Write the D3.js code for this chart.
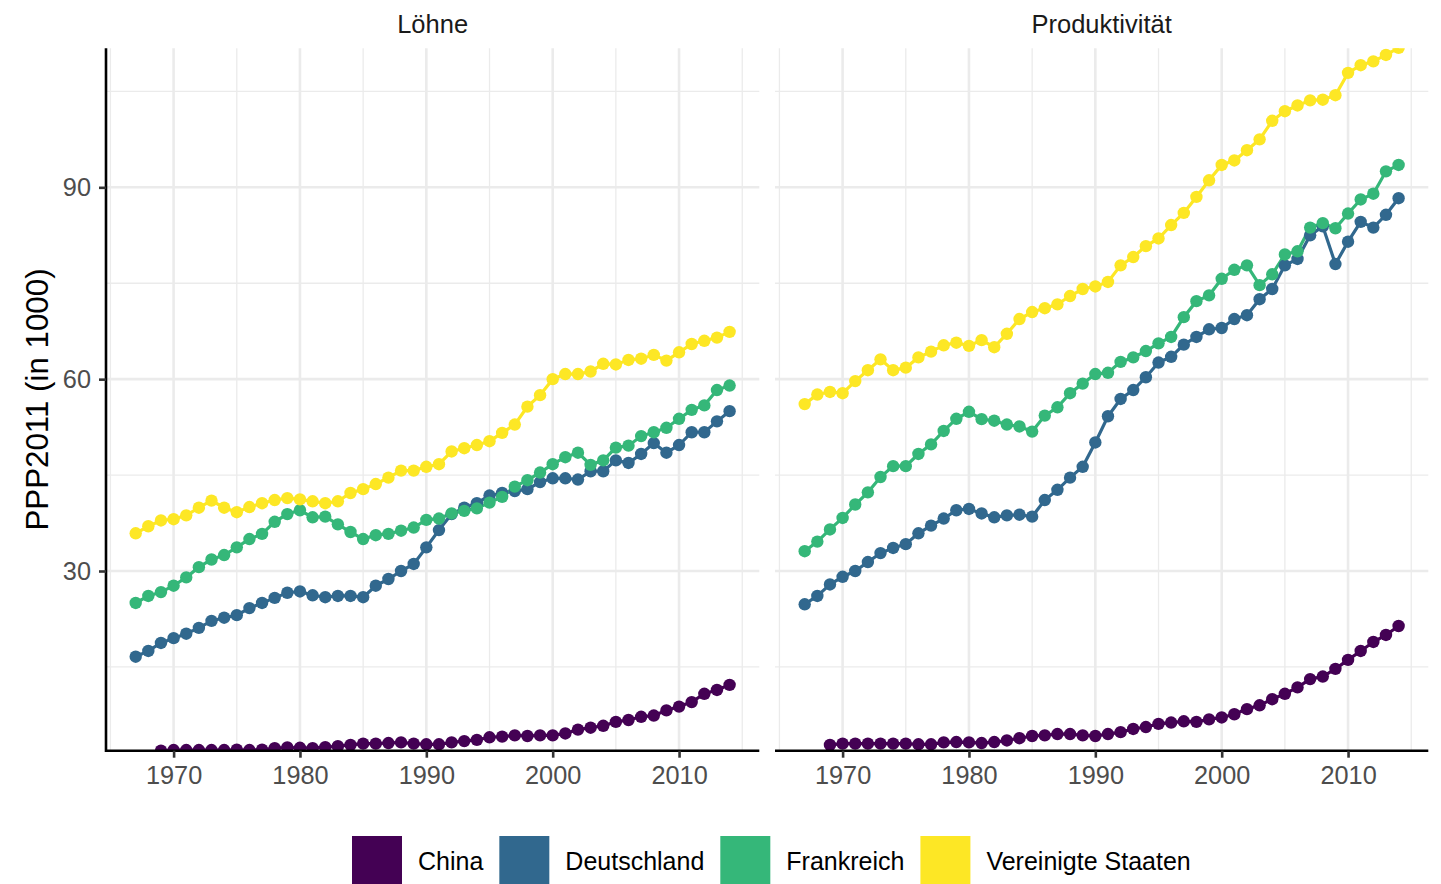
<!DOCTYPE html>
<html>
<head>
<meta charset="utf-8">
<script src="https://cdn.jsdelivr.net/npm/d3@7"></script>
<style>
  html, body { margin: 0; padding: 0; background: #fff; }
  svg { display: block; font-family: "Liberation Sans", Arial, Helvetica, sans-serif; }
</style>
</head>
<body>
<svg id="chart" width="1441" height="884"></svg>
<script>
// ---------------- DATA ----------------
const years = [1967,1968,1969,1970,1971,1972,1973,1974,1975,1976,1977,1978,1979,1980,1981,1982,1983,1984,1985,1986,1987,1988,1989,1990,
               1991,1992,1993,1994,1995,1996,1997,1998,1999,2000,2001,2002,2003,2004,2005,2006,2007,2008,2009,2010,2011,2012,2013,2014];
const countries = ["China", "Deutschland", "Frankreich", "Vereinigte Staaten"];
const colors = ["#440154", "#31688E", "#35B779", "#FDE725"];
const panels = ["Löhne", "Produktivität"];
const yTicks = [30, 60, 90];
const yMinor = [15, 45, 75, 105];
const xTicks = [1970, 1980, 1990, 2000, 2010];
const xMinor = [1965, 1975, 1985, 1995, 2005, 2015];

// Löhne
const lohnChina = [null,null,1.9,2.0,2.0,2.0,2.0,2.0,2.05,2.0,2.05,2.3,2.4,2.35,2.3,2.45,2.6,2.8,3.0,3.0,3.1,3.2,3.0,2.9,
                   2.9,3.2,3.4,3.6,4.0,4.1,4.3,4.2,4.3,4.3,4.6,5.2,5.5,5.8,6.4,6.7,7.2,7.4,8.2,8.8,9.5,10.8,11.4,12.2];
const lohnDeutschland = [16.6,17.5,18.75,19.5,20.2,21.1,22.2,22.7,23.1,24.2,25.0,25.8,26.6,26.8,26.2,25.9,26.1,26.1,25.9,27.7,28.75,30.0,31.1,33.7,
                   36.4,38.9,39.9,40.6,41.8,42.2,42.5,42.8,43.9,44.5,44.5,44.3,45.6,45.6,47.3,46.9,48.3,50.0,48.5,49.7,51.7,51.7,53.4,55.0];
const lohnFrankreich = [25.0,26.1,26.7,27.7,29.0,30.6,31.8,32.5,33.7,35.0,35.8,37.7,38.9,39.5,38.4,38.5,37.3,36.1,35.0,35.6,35.8,36.3,36.8,38.0,
                   38.2,39.0,39.4,39.8,40.7,41.6,43.2,44.2,45.4,46.7,47.8,48.5,46.6,47.3,49.3,49.6,51.1,51.7,52.4,53.8,55.2,55.9,58.3,59.0];
const lohnUSA = [35.9,37.0,37.9,38.1,38.7,39.9,41.0,39.9,39.2,40.0,40.6,41.1,41.4,41.2,40.9,40.6,40.9,42.2,42.8,43.6,44.6,45.7,45.7,46.3,
                   46.7,48.7,49.2,49.7,50.3,51.6,52.9,55.7,57.5,60.0,60.8,60.8,61.2,62.4,62.3,63.0,63.2,63.8,62.9,64.2,65.5,66.0,66.5,67.4];
// Produktivität
const prodChina = [null,null,2.8,3.0,3.0,3.0,3.0,3.0,3.0,2.9,2.9,3.2,3.25,3.2,3.1,3.25,3.5,3.85,4.2,4.3,4.5,4.5,4.3,4.2,
                   4.5,4.8,5.3,5.6,6.1,6.3,6.5,6.4,6.8,7.1,7.6,8.4,9.0,9.95,10.8,11.8,13.1,13.5,14.7,16.1,17.5,18.9,20.0,21.4];
const prodDeutschland = [24.8,26.1,27.9,29.1,30.0,31.4,32.8,33.6,34.2,35.9,37.1,38.2,39.5,39.7,39.0,38.4,38.7,38.8,38.5,41.1,42.7,44.6,46.3,50.1,
                   54.2,56.9,58.3,60.3,62.6,63.5,65.4,66.6,67.8,68.0,69.4,70.0,72.5,74.1,77.8,78.8,82.5,83.9,78.0,81.5,84.6,83.7,85.7,88.3];
const prodFrankreich = [33.1,34.6,36.5,38.3,40.4,42.3,44.7,46.4,46.4,48.3,49.8,51.9,53.8,54.9,53.75,53.5,52.9,52.6,51.8,54.3,55.6,57.8,59.3,60.8,
                   61.0,62.7,63.4,64.4,65.6,66.6,69.7,72.2,73.1,75.7,77.1,77.8,74.7,76.4,79.5,80.0,83.7,84.4,83.6,85.9,88.1,89.0,92.5,93.5];
const prodUSA = [56.1,57.6,58.0,57.8,59.7,61.4,63.1,61.4,61.8,63.4,64.3,65.3,65.7,65.2,66.1,65.0,67.1,69.4,70.5,71.1,71.7,73.0,74.1,74.5,
                   75.2,77.8,79.1,80.8,82.0,84.1,86.0,88.5,91.1,93.5,94.2,95.8,97.5,100.4,101.9,102.8,103.6,103.7,104.4,107.9,109.1,109.7,110.7,111.8];

const panelData = [
  [lohnChina, lohnDeutschland, lohnFrankreich, lohnUSA],
  [prodChina, prodDeutschland, prodFrankreich, prodUSA]
];

// ---------------- LAYOUT ----------------
const svg = d3.select("#chart");
const panelTop = 48.3, panelBottom = 750.7;
const panelLefts = [106, 775];
const panelWidth = 653.3;
const font = '"Liberation Sans", Arial, Helvetica, sans-serif';
const smallSize = "25.3px";

const y = d3.scaleLinear().domain([1.9, 111.74]).range([panelBottom, panelTop]);

panels.forEach((name, pi) => {
  const left = panelLefts[pi];
  const x = d3.scaleLinear().domain([1964.65, 2016.35]).range([left, left + panelWidth]);
  const g = svg.append("g");

  const clipId = "clip" + pi;
  svg.append("clipPath").attr("id", clipId)
    .append("rect").attr("x", left).attr("y", panelTop)
    .attr("width", panelWidth).attr("height", panelBottom - panelTop);

  const grid = g.append("g");
  grid.selectAll("line.ymin").data(yMinor).join("line")
    .attr("x1", left).attr("x2", left + panelWidth)
    .attr("y1", d => y(d)).attr("y2", d => y(d))
    .attr("stroke", "#EBEBEB").attr("stroke-width", 1.3);
  grid.selectAll("line.xmin").data(xMinor).join("line")
    .attr("x1", d => x(d)).attr("x2", d => x(d))
    .attr("y1", panelTop).attr("y2", panelBottom)
    .attr("stroke", "#EBEBEB").attr("stroke-width", 1.3);
  grid.selectAll("line.ymaj").data(yTicks).join("line")
    .attr("x1", left).attr("x2", left + panelWidth)
    .attr("y1", d => y(d)).attr("y2", d => y(d))
    .attr("stroke", "#EBEBEB").attr("stroke-width", 2.6);
  grid.selectAll("line.xmaj").data(xTicks).join("line")
    .attr("x1", d => x(d)).attr("x2", d => x(d))
    .attr("y1", panelTop).attr("y2", panelBottom)
    .attr("stroke", "#EBEBEB").attr("stroke-width", 2.6);

  const marks = g.append("g").attr("clip-path", `url(#${clipId})`);
  const series = panelData[pi];
  const line = d3.line()
    .defined(d => d.v !== null)
    .x(d => x(d.year)).y(d => y(d.v));

  series.forEach((vals, ci) => {
    const pts = years.map((yr, i) => ({ year: yr, v: vals[i] }));
    marks.append("path").datum(pts)
      .attr("d", line).attr("fill", "none")
      .attr("stroke", colors[ci]).attr("stroke-width", 3.2);
  });
  series.forEach((vals, ci) => {
    const pts = years.map((yr, i) => ({ year: yr, v: vals[i] })).filter(d => d.v !== null);
    marks.selectAll("circle.c" + ci).data(pts).join("circle")
      .attr("cx", d => x(d.year)).attr("cy", d => y(d.v))
      .attr("r", 6.2).attr("fill", colors[ci]);
  });

  const xAxis = d3.axisBottom(x).tickValues(xTicks).tickFormat(d3.format("d")).tickSize(7).tickPadding(8);
  const xa = svg.append("g").attr("transform", `translate(0,${panelBottom})`).call(xAxis);
  xa.select(".domain").attr("stroke", "#000").attr("stroke-width", 2.6)
    .attr("d", `M${left},0H${left + panelWidth}`);
  xa.selectAll(".tick line").attr("stroke", "#333333").attr("stroke-width", 2.6);
  xa.selectAll(".tick text").attr("fill", "#4D4D4D").style("font-size", smallSize).style("font-family", font);

  svg.append("text").attr("x", left + panelWidth / 2).attr("y", 33)
    .attr("text-anchor", "middle").attr("fill", "#1A1A1A")
    .style("font-size", "25.5px").style("font-family", font).text(name);

  if (pi === 0) {
    const yAxis = d3.axisLeft(y).tickValues(yTicks).tickSize(7).tickPadding(8);
    const ya = svg.append("g").attr("transform", `translate(${left},0)`).call(yAxis);
    ya.select(".domain").attr("stroke", "#000").attr("stroke-width", 2.6)
      .attr("d", `M0,${panelTop}V${panelBottom + 1.3}`);
    ya.selectAll(".tick line").attr("stroke", "#333333").attr("stroke-width", 2.6);
    ya.selectAll(".tick text").attr("fill", "#4D4D4D").style("font-size", smallSize).style("font-family", font);
  }
});

svg.append("text")
  .attr("transform", `translate(48,${(panelTop + panelBottom) / 2}) rotate(-90)`)
  .attr("text-anchor", "middle").attr("fill", "#000")
  .style("font-size", "31.3px").style("font-family", font)
  .text("PPP2011 (in 1000)");

const legend = svg.append("g");
let lx = 352;
countries.forEach((c, i) => {
  legend.append("rect").attr("x", lx).attr("y", 836).attr("width", 50).attr("height", 50).attr("fill", colors[i]);
  const t = legend.append("text").attr("x", lx + 66).attr("y", 870)
    .attr("fill", "#000").style("font-size", "25px").style("font-family", font).text(c);
  const w = t.node().getComputedTextLength();
  lx = lx + 66 + w + 16;
});
</script>
</body>
</html>
